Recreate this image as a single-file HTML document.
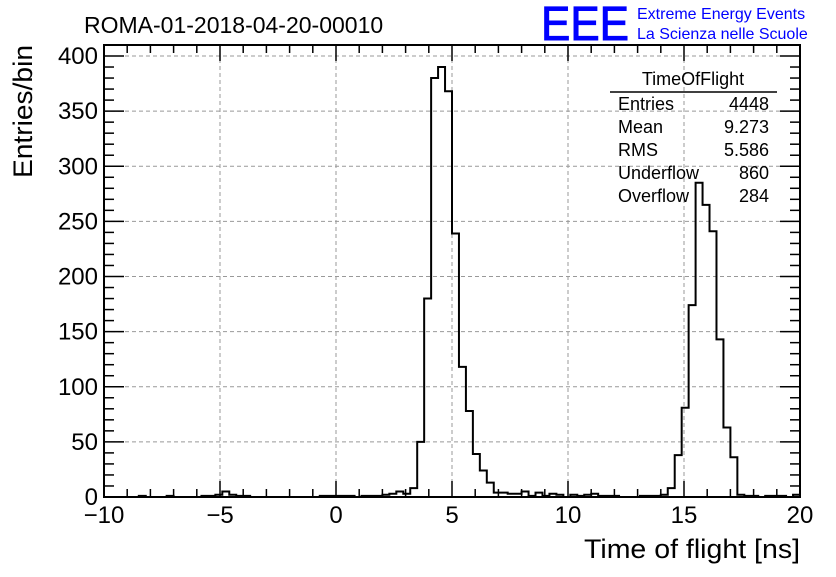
<!DOCTYPE html>
<html><head><meta charset="utf-8"><style>
body{margin:0;background:#fff;font-family:"Liberation Sans",sans-serif}
svg text{font-family:"Liberation Sans",sans-serif}
</style></head><body>
<svg id="c" width="836" height="572" xmlns="http://www.w3.org/2000/svg">
<rect width="836" height="572" fill="#fff"/>
<text x="84" y="33" font-size="23">ROMA-01-2018-04-20-00010</text>
<text x="541" y="40" font-size="48" fill="#0000ff" stroke="#0000ff" stroke-width="1" textLength="88" lengthAdjust="spacingAndGlyphs">EEE</text>
<text x="637" y="19" font-size="16" fill="#0000ff">Extreme Energy Events</text>
<text x="637" y="39" font-size="16" fill="#0000ff">La Scienza nelle Scuole</text>
<g id="grid"></g>
<g id="hist"></g>
<g id="axes"></g>
<g font-size="18">
<text x="693" y="85" text-anchor="middle">TimeOfFlight</text>
<line x1="610" y1="92" x2="777" y2="92" stroke="#000" stroke-width="1.5"/>
<text x="618" y="110">Entries</text><text x="769" y="110" text-anchor="end">4448</text>
<text x="618" y="133">Mean</text><text x="769" y="133" text-anchor="end">9.273</text>
<text x="618" y="156">RMS</text><text x="769" y="156" text-anchor="end">5.586</text>
<text x="618" y="179">Underflow</text><text x="769" y="179" text-anchor="end">860</text>
<text x="618" y="202">Overflow</text><text x="769" y="202" text-anchor="end">284</text>
</g>
<text x="800" y="558" font-size="27" text-anchor="end" textLength="216" lengthAdjust="spacingAndGlyphs">Time of flight [ns]</text>
<text transform="translate(32,178) rotate(-90)" font-size="27" textLength="133" lengthAdjust="spacingAndGlyphs">Entries/bin</text>
</svg>
<script>
const binEdges = [-10, 20];
const binWidth = 0.3;
const counts = [0,0,0,0,0,1,0,0,0,1,0,0,0,0,1,1,2,5,2,1,1,0,0,0,0,0,0,0,0,0,0,1,1,1,1,1,0,1,1,1,2,3,5,3,
8,50,180,380,390,368,239,118,78,39,24,13,4,
4,3,3,5,1,4,1,3,2,0,2,1,2,3,1,1,1,0,0,0,1,1,1,2,
8,38,81,174,285,265,241,143,63,36,2,
1,1,0,1,1,1,0,2];
const xTicks = [-10,-5,0,5,10,15,20];
const yTicks = [0,50,100,150,200,250,300,350,400];
const NS="http://www.w3.org/2000/svg";
const L=104,R=800,T=45,B=497;
const xs=v=>L+(v-binEdges[0])/(binEdges[1]-binEdges[0])*(R-L);
const ys=v=>B-v*1.1025;
function mk(tag,attrs,parent){const e=document.createElementNS(NS,tag);for(const k in attrs)e.setAttribute(k,attrs[k]);parent.appendChild(e);return e;}
const grid=document.getElementById('grid'),axes=document.getElementById('axes'),hist=document.getElementById('hist');
xTicks.forEach(t=>{
  if(t>binEdges[0]&&t<binEdges[1]){const g=mk('line',{x1:xs(t),x2:xs(t),y1:T,y2:B,stroke:'#999','stroke-dasharray':'4,3','stroke-width':1},grid);
  
  }
  const tx=mk('text',{x:xs(t),y:523,'font-size':24,'text-anchor':'middle'},axes);tx.textContent=(t<0?'\u2212'+(-t):t);
  
  
});
for(let v=-10;v<=20;v++){const big=v%5===0;mk('line',{x1:xs(v),x2:xs(v),y1:B,y2:B-(big?16:8),stroke:'#000','stroke-width':1.5},axes);mk('line',{x1:xs(v),x2:xs(v),y1:T,y2:T+(big?16:8),stroke:'#000','stroke-width':1.5},axes);}
yTicks.forEach(t=>{
  if(t>0){const g=mk('line',{x1:L,x2:R,y1:ys(t),y2:ys(t),stroke:'#999','stroke-dasharray':'4,3','stroke-width':1},grid);
  
  }
  const tx=mk('text',{x:98,y:ys(t)+8,'font-size':24,'text-anchor':'end'},axes);tx.textContent=t;
  
  
});
for(let v=0;v<=400;v+=10){const big=v%50===0;mk('line',{x1:L,x2:L+(big?20:10),y1:ys(v),y2:ys(v),stroke:'#000','stroke-width':1.5},axes);mk('line',{x1:R,x2:R-(big?20:10),y1:ys(v),y2:ys(v),stroke:'#000','stroke-width':1.5},axes);}
mk('rect',{x:L,y:T,width:R-L,height:B-T,fill:'none',stroke:'#000','stroke-width':2},axes);
let d='M'+L+','+B;
counts.forEach((c,i)=>{const x0=xs(binEdges[0]+i*binWidth),x1=xs(binEdges[0]+(i+1)*binWidth);d+=' L'+x0+','+ys(c)+' L'+x1+','+ys(c);});
d+=' L'+R+','+B;
const p=mk('path',{d:d,fill:'none',stroke:'#000','stroke-width':2},hist);


</script>
</body></html>
